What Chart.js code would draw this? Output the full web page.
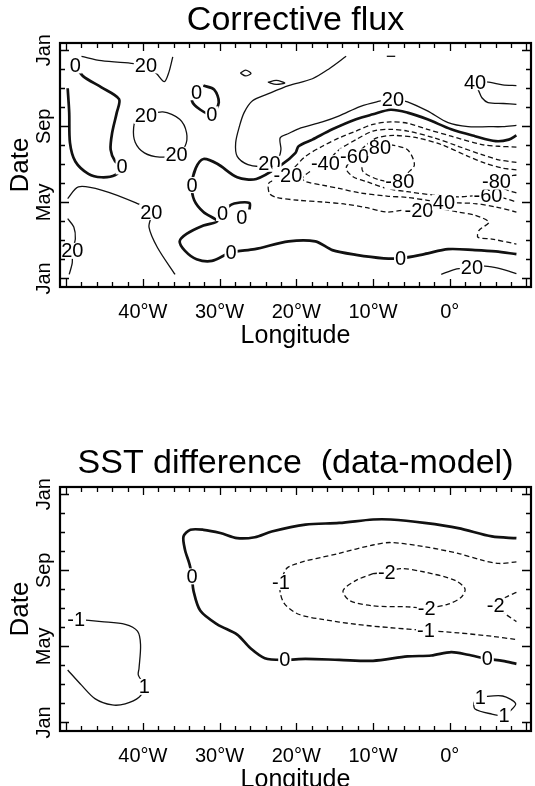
<!DOCTYPE html>
<html>
<head>
<meta charset="utf-8">
<script src="https://cdn.jsdelivr.net/npm/chart.js@4.4.1/dist/chart.umd.min.js"></script>
<style>
  html, body { margin: 0; padding: 0; background: #fff; overflow: hidden; }
  .box { position: absolute; left: 0; width: 535px; }
</style>
</head>
<body>
<div class="box" style="top:0"><canvas id="flux" width="535" height="393"></canvas></div>
<div class="box" style="top:393px"><canvas id="sst" width="535" height="420"></canvas></div>
<script>
// axis ticks
const lonLabelValues = [-40, -30, -20, -10, 0];
const lonLabels = ["40°W", "30°W", "20°W", "10°W", "0°"];
const monthLabelValues = [0, 4, 8, 12];
const monthLabels = ["Jan", "May", "Sep", "Jan"];

// contours, [longitude, month] (month 0 = Jan at bottom, 12 = Jan at top)
// --- corrective flux ---
const flux0a = [[-48.8,11.2],[-47.8,10.64],[-45.4,10.05],[-43.1,9.43],[-43.4,8.72],[-44.0,7.66],[-44.2,6.77],[-43.6,6.15],[-42.7,5.89],[-43.6,5.44],[-45.4,5.32],[-47.1,5.5],[-48.8,6.15],[-49.5,7.13],[-49.6,8.72],[-49.8,10.0]];
const flux0b = [[-32.1,10.14],[-30.7,9.93],[-30.1,9.26],[-31.0,8.63],[-32.5,8.87],[-33.6,9.34],[-33.2,9.93],[-32.1,10.14]];
const flux0c = [[-29.6,3.44],[-28.9,3.76],[-28.1,3.94],[-26.1,3.97],[-26.1,3.62]];
const flux0d = [[8.7,7.52],[7.7,7.3],[6.0,7.22],[3.3,7.48],[0.2,7.84],[-2.9,8.37],[-5.5,8.72],[-7.7,8.87],[-10.0,8.63],[-12.2,8.37],[-15.3,7.84],[-17.9,7.3],[-19.7,6.95],[-20.1,6.6],[-21.9,5.98],[-25.2,5.23],[-27.7,5.32],[-30.3,6.03],[-32.1,6.28],[-33.1,5.8],[-33.6,4.91],[-33.3,4.11],[-32.1,3.49],[-30.3,3.01],[-32.1,2.78],[-34.3,2.34],[-35.2,1.95],[-34.5,1.45],[-33.0,1.01],[-31.0,0.92],[-28.5,1.37],[-25.4,1.54],[-21.0,1.95],[-17.5,1.95],[-15.3,1.49],[-12.2,1.24],[-8.6,1.06],[-6.4,1.06],[-3.3,1.28],[-0.2,1.54],[3.3,1.49],[6.0,1.42],[8.7,1.28]];
const flux20a = [[-48.0,11.68],[-45.4,11.45],[-41.2,11.3],[-39.6,11.2],[-38.2,10.76],[-37.2,10.35],[-36.6,10.85],[-36.1,11.65]];
const flux20b = [[-39.6,8.55],[-37.4,8.76],[-35.2,8.37],[-34.3,7.66],[-34.5,6.95],[-35.6,6.5],[-37.8,6.38],[-39.8,6.6],[-41.0,7.16],[-41.2,7.93],[-40.7,8.46],[-39.6,8.55]];
const flux20c = [[-49.8,4.2],[-48.4,4.82],[-45.4,4.65],[-40.9,3.97],[-38.9,3.49],[-39.2,2.7],[-38.1,1.63],[-35.8,0.21]];
const flux20d = [[-49.8,3.14],[-49.0,2.7],[-48.8,2.07],[-49.2,1.45],[-49.2,0.83],[-49.6,0.21]];
const flux20e = [[-13.5,11.68],[-15.7,11.03],[-17.9,10.5],[-21.0,10.14],[-23.7,9.7],[-25.7,9.34],[-26.8,8.72],[-27.4,8.01],[-27.9,7.13],[-27.7,6.42],[-26.3,5.98],[-24.6,5.89],[-23.5,6.03],[-22.4,6.28],[-22.0,6.77],[-22.1,7.39],[-21.0,7.62],[-19.7,7.87],[-16.6,8.23],[-14.4,8.55],[-11.7,9.04],[-9.5,9.29],[-7.4,9.43],[-5.5,9.29],[-2.9,8.81],[-0.2,8.19],[2.4,7.98],[5.1,7.98],[6.9,7.98],[8.7,8.05]];
const flux20f = [[-1.1,0.21],[0.7,0.48],[2.9,0.57],[4.2,0.66],[6.0,0.57],[7.7,0.39],[8.7,0.25]];
const flux40 = [[8.7,10.14],[6.9,10.18],[5.1,10.32],[3.3,10.32],[3.8,9.85],[4.2,9.5],[5.0,9.25],[7.0,9.2],[8.7,9.15]];
const fluxSmall1 = [[-27.3,10.8],[-26.6,10.95],[-25.9,10.78],[-26.6,10.65],[-27.3,10.8]];
const fluxSmall2 = [[-23.7,10.32],[-22.6,10.41],[-21.5,10.28],[-22.6,10.2],[-23.7,10.32]];
const fluxSmall3 = [[-8.2,11.68],[-7.1,11.68]];
const fluxN20 = [[8.7,6.91],[6.4,6.95],[4.2,7.04],[0.2,7.48],[-2.9,7.84],[-5.5,8.16],[-7.7,8.23],[-10.0,8.1],[-12.2,7.75],[-14.4,7.39],[-16.6,6.95],[-18.8,6.42],[-20.1,5.89],[-21.1,5.44],[-22.8,5.18],[-23.6,5.0],[-23.5,4.47],[-22.6,4.26],[-19.7,4.11],[-16.6,4.02],[-13.5,3.9],[-10.8,3.72],[-8.2,3.49],[-6.2,3.58],[-4.0,3.58],[-1.5,3.67],[1.1,3.49],[3.3,3.32],[5.1,2.96],[3.8,2.52],[3.7,2.16],[5.5,2.07],[8.7,1.81]];
const fluxN40 = [[8.7,6.1],[6.4,6.24],[4.2,6.51],[1.1,6.95],[-2.0,7.39],[-5.5,7.75],[-7.7,7.84],[-10.0,7.75],[-12.2,7.3],[-14.4,6.77],[-16.2,6.06],[-17.9,5.71],[-19.2,5.27],[-18.8,5.09],[-16.6,4.91],[-14.4,4.73],[-11.7,4.5],[-8.2,4.33],[-5.5,4.26],[-2.9,4.11],[-0.75,3.99],[1.1,3.97],[3.3,3.94],[6.0,3.76],[8.7,3.49]];
const fluxN60 = [[8.7,5.71],[6.9,5.8],[4.6,6.06],[2.4,6.42],[-1.1,7.04],[-4.2,7.39],[-7.3,7.52],[-9.5,7.39],[-10.8,7.04],[-12.4,6.42],[-13.5,5.8],[-12.6,5.35],[-10.8,5.09],[-8.2,4.73],[-5.5,4.56],[-2.0,4.38],[1.1,4.29],[5.0,4.38],[7.3,4.2],[8.7,4.02]];
const fluxN80a = [[-7.7,7.04],[-5.5,6.77],[-4.6,5.98],[-5.5,5.53],[-6.5,5.09],[-9.1,5.18],[-11.3,5.62],[-11.3,6.15],[-10.0,6.68],[-9.1,6.86],[-7.7,7.04]];
const fluxN80b = [[8.7,5.44],[7.4,5.35],[6.1,5.09],[7.2,4.7],[8.7,4.5]];

const fluxContours = [
  [0, flux0a], [0, flux0b], [0, flux0c], [0, flux0d],
  [20, flux20a], [20, flux20b], [20, flux20c], [20, flux20d], [20, flux20e], [20, flux20f],
  [40, flux40], [20, fluxSmall1], [20, fluxSmall2], [20, fluxSmall3],
  [-20, fluxN20], [-40, fluxN40], [-60, fluxN60], [-80, fluxN80a], [-80, fluxN80b]
];
const fluxLabels = [
  ["0",-48.8,11.2], ["20",-39.6,11.2], ["20",-39.6,8.55], ["20",-35.6,6.5], ["0",-42.7,5.89],
  ["20",-38.9,3.49], ["20",-49.2,1.45], ["0",-33.0,9.79], ["0",-31.0,8.63], ["0",-33.6,4.91],
  ["0",-29.6,3.44], ["0",-27.1,3.19], ["0",-28.5,1.37], ["0",-6.4,1.06], ["20",-23.5,6.03],
  ["20",-7.4,9.43], ["-20",-21.1,5.44], ["-40",-16.2,6.06], ["-60",-12.4,6.42], ["80",-9.1,6.86],
  ["-80",-6.5,5.09], ["-20",-4.0,3.58], ["40",-0.75,3.99], ["-60",5.0,4.38], ["-80",6.1,5.09],
  ["40",3.3,10.32], ["20",2.9,0.57]
];

// --- SST difference ---
const sst0 = [[8.7,9.69],[5.5,9.78],[1.1,10.22],[-3.3,10.49],[-7.7,10.67],[-10.0,10.67],[-14.4,10.49],[-18.8,10.4],[-23.2,10.04],[-25.4,9.74],[-27.7,9.69],[-29.9,9.96],[-32.1,10.13],[-33.8,10.13],[-34.7,9.78],[-34.5,9.07],[-33.9,8.3],[-33.6,7.68],[-33.4,6.93],[-32.5,5.87],[-30.3,5.16],[-27.7,4.62],[-26.0,3.91],[-24.1,3.38],[-21.5,3.29],[-18.8,3.34],[-14.4,3.29],[-10.0,3.24],[-5.5,3.47],[-2.4,3.52],[0.2,3.7],[2.4,3.56],[4.9,3.34],[6.9,3.24],[8.7,3.08]];
const sstN1 = [[8.7,8.44],[6.4,8.36],[4.2,8.53],[1.1,8.89],[-3.3,9.24],[-7.7,9.46],[-10.0,9.33],[-14.4,8.89],[-21.0,8.18],[-22.0,7.38],[-22.1,6.84],[-21.5,6.22],[-19.7,5.69],[-16.6,5.42],[-12.2,5.16],[-7.7,4.98],[-3.1,4.84],[1.1,4.71],[5.5,4.53],[8.7,4.36]];
const sstN2a = [[-10.0,7.82],[-12.2,7.47],[-13.9,6.93],[-13.0,6.4],[-10.0,6.13],[-5.5,6.08],[-3.0,6.01],[-0.2,6.22],[1.5,6.58],[2.0,7.02],[0.7,7.47],[-3.3,7.91],[-6.4,8.09],[-8.2,7.91],[-10.0,7.82]];
const sstN2b = [[8.7,6.84],[7.3,6.58],[6.0,6.13],[7.3,5.69],[8.7,5.3]];
const sst1a = [[-48.7,5.42],[-45.4,5.3],[-42.3,5.16],[-40.7,4.8],[-40.3,4.09],[-40.5,2.84],[-40.6,2.5],[-39.8,1.87],[-40.5,1.33],[-42.3,0.98],[-44.0,0.92],[-46.2,1.24],[-48.0,1.96],[-49.8,2.76]];
const sst1b = [[4.0,1.33],[6.9,1.39],[8.6,0.98],[7.7,0.53],[7.1,0.36],[5.5,0.44],[3.3,0.71],[3.2,1.07],[4.0,1.33]];

const sstContours = [
  [0, sst0], [-1, sstN1], [-2, sstN2a], [-2, sstN2b], [1, sst1a], [1, sst1b]
];
const sstLabels = [
  ["0",-33.6,7.68], ["0",-21.5,3.29], ["0",4.9,3.34], ["-1",-22.0,7.38], ["-2",-8.2,7.91],
  ["-2",-3.0,6.01], ["-1",-3.1,4.84], ["-2",6.0,6.13], ["-1",-48.7,5.42], ["1",-39.8,1.87],
  ["1",4.0,1.33], ["1",7.1,0.36]
];

const FONT = "'Liberation Sans', Arial, Helvetica, sans-serif";
Chart.defaults.color = '#000';
Chart.defaults.font.family = FONT;

function toDatasets(list) {
  return list.map(([level, pts]) => ({
    data: pts.map(p => ({ x: p[0], y: p[1] })),
    showLine: true,
    pointRadius: 0,
    borderColor: '#111',
    borderWidth: level === 0 ? 2.7 : 1.3,
    borderDash: level < 0 ? [5, 3] : [],
    tension: 0.3,
    fill: false
  }));
}

const contourLabels = {
  id: 'contourLabels',
  afterDatasetsDraw(chart, args, opts) {
    const { ctx, scales: { x, y } } = chart;
    ctx.save();
    ctx.font = '20px ' + FONT;
    ctx.textAlign = 'center';
    ctx.textBaseline = 'middle';
    opts.items.forEach(([t, lon, m]) => {
      const px = x.getPixelForValue(lon), py = y.getPixelForValue(m);
      const w = ctx.measureText(t).width;
      ctx.fillStyle = '#fff';
      ctx.fillRect(px - w / 2 - 1, py - 8, w + 2, 16);
      ctx.fillStyle = '#000';
      ctx.fillText(t, px, py + 1);
    });
    ctx.restore();
  }
};

const frame = {
  id: 'frame',
  afterDraw(chart) {
    const { ctx, chartArea: a, scales: { x, y } } = chart;
    ctx.save();
    ctx.strokeStyle = '#000';
    ctx.lineWidth = 2.2;
    ctx.strokeRect(a.left, a.top, a.right - a.left, a.bottom - a.top);
    ctx.lineWidth = 1.3;
    ctx.beginPath();
    for (let v = -50; v <= 10; v += 2) {
      const px = Math.round(x.getPixelForValue(v)) + 0.5;
      const len = v % 10 === 0 ? 8 : 5;
      ctx.moveTo(px, a.bottom); ctx.lineTo(px, a.bottom - len);
      ctx.moveTo(px, a.top); ctx.lineTo(px, a.top + len);
    }
    for (let m = 0; m <= 12; m++) {
      const py = Math.round(y.getPixelForValue(m)) + 0.5;
      const len = m % 4 === 0 ? 9 : 5;
      ctx.moveTo(a.left, py); ctx.lineTo(a.left + len, py);
      ctx.moveTo(a.right, py); ctx.lineTo(a.right - len, py);
    }
    ctx.stroke();
    ctx.fillStyle = '#000';
    ctx.font = '20px ' + FONT;
    ctx.textAlign = 'center';
    ctx.textBaseline = 'middle';
    monthLabelValues.forEach((v, i) => {
      ctx.save();
      ctx.translate(a.left - 16, y.getPixelForValue(v));
      ctx.rotate(-Math.PI / 2);
      ctx.fillText(monthLabels[i], 0, 0);
      ctx.restore();
    });
    ctx.restore();
  }
};

function makeChart(id, title, titlePad, contours, labels, bottomPad) {
  return new Chart(document.getElementById(id), {
    type: 'scatter',
    data: { datasets: toDatasets(contours) },
    options: {
      responsive: false,
      animation: false,
      events: [],
      layout: { padding: { left: 0, right: 4, top: 0, bottom: bottomPad } },
      plugins: {
        legend: { display: false },
        tooltip: { enabled: false },
        title: {
          display: true, text: title, fullSize: false,
          font: { size: 34, weight: 'normal', lineHeight: 1 },
          padding: titlePad
        },
        contourLabels: { items: labels }
      },
      scales: {
        x: {
          type: 'linear', min: -50.8, max: 10.6,
          afterBuildTicks: s => { s.ticks = lonLabelValues.map(v => ({ value: v })); },
          afterFit: s => { s.height = 61.5; },
          grid: { display: false, drawTicks: false },
          border: { display: false },
          ticks: {
            autoSkip: false, maxRotation: 0, padding: 15,
            font: { size: 20, lineHeight: 1 },
            callback: (v, i) => lonLabels[i]
          },
          title: { display: true, text: 'Longitude', font: { size: 25, lineHeight: 1 }, padding: 0 }
        },
        y: {
          type: 'linear', min: -0.45, max: 12.38,
          afterBuildTicks: s => { s.ticks = monthLabelValues.map(v => ({ value: v })); },
          afterFit: s => { s.width = 60; },
          grid: { display: false, drawTicks: false },
          border: { display: false },
          ticks: { display: false },
          title: { display: true, text: 'Date', font: { size: 26, lineHeight: 1 }, padding: { top: 8, bottom: 0 } }
        }
      }
    },
    plugins: [contourLabels, frame]
  });
}

makeChart('flux', 'Corrective flux', { top: 3.5, bottom: 5.5 }, fluxContours, fluxLabels, 44.5);
makeChart('sst', 'SST difference  (data-model)', { top: 53.6, bottom: 6.4 }, sstContours, sstLabels, 20.5);
</script>
</body>
</html>
